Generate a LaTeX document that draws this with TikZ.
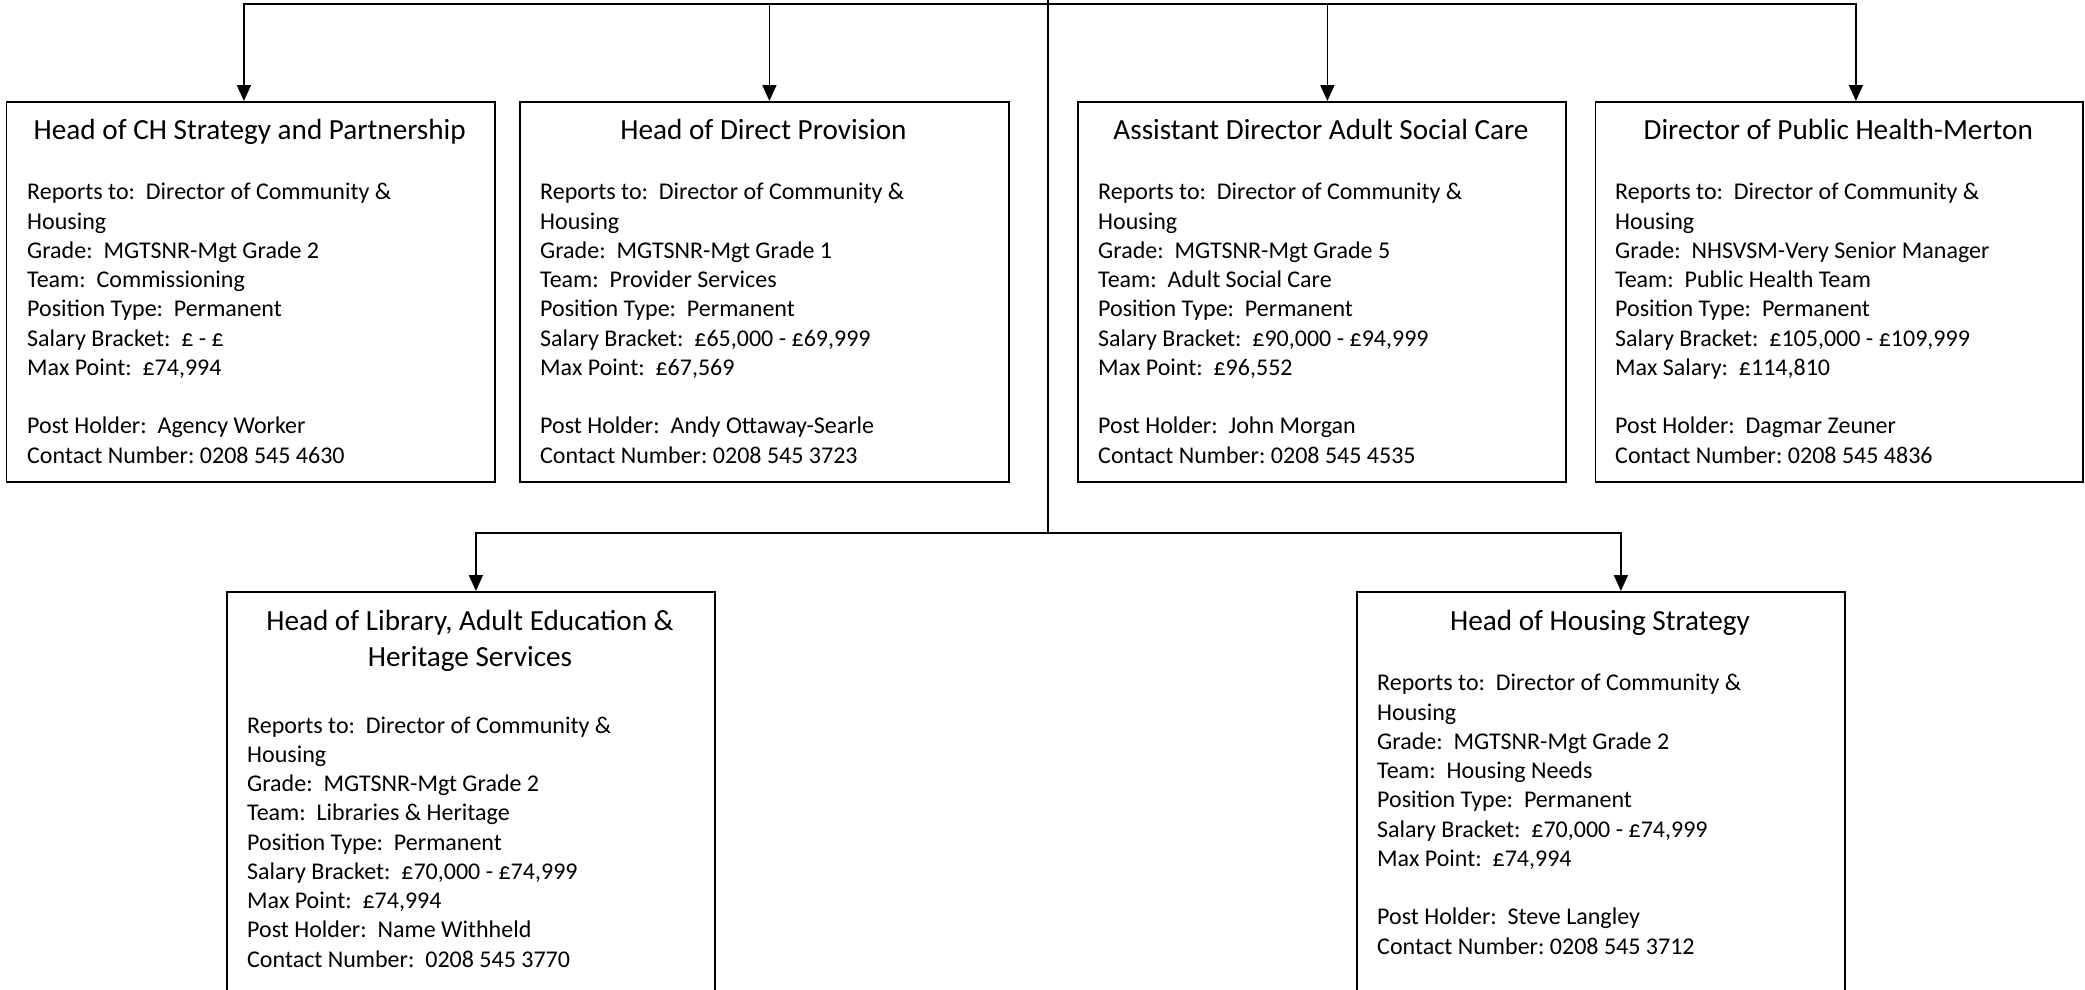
\documentclass[tikz,border=0pt]{standalone}
\usepackage{fontspec}
\setmainfont{Carlito}
\usetikzlibrary{arrows.meta}
\begin{document}
\begin{tikzpicture}[x=1pt,y=-1pt,
  box/.style={draw=black,line width=1.8pt,rectangle,inner sep=0pt,anchor=north west},
  conn/.style={line width=1.8pt,draw=black},
  arr/.style={conn,-{Triangle[length=16pt,width=14pt]}},
  ttl/.style={font=\frenchspacing\fontsize{29.2}{35.5}\selectfont,anchor=base,align=center,inner sep=0pt},
  bod/.style={font=\frenchspacing\fontsize{24}{29.25}\selectfont,anchor=base west,align=left,inner sep=0pt}]
\useasboundingbox (0,0) rectangle (2085,989);
\clip (0,0) rectangle (2085,989);
% boxes
\node[box,minimum width=488.5pt,minimum height=380pt] (b1) at (5.5,101) {};
\node[box,minimum width=489pt,minimum height=380pt] (b2) at (519,101) {};
\node[box,minimum width=488pt,minimum height=380pt] (b3) at (1077,101) {};
\node[box,minimum width=487.5pt,minimum height=380pt] (b4) at (1594.5,101) {};
\node[box,minimum width=488pt,minimum height=430pt] (b5) at (226,591) {};
\node[box,minimum width=488pt,minimum height=430pt] (b6) at (1356,591) {};
% connectors
\coordinate (root) at (1048,-5);
\coordinate (j1) at (1048,4);
\coordinate (j2) at (1048,533);
\draw[conn] (root) -- (j2);
\draw[arr] (j1) -| ([xshift=-6.75pt]b1.north);
\draw[arr] (j1) -| ([xshift=5pt]b2.north);
\draw[arr] (j1) -| ([xshift=5.5pt]b3.north);
\draw[arr] (j1) -| ([xshift=16.75pt]b4.north);
\draw[arr] (j2) -| ([xshift=5pt]b5.north);
\draw[arr] (j2) -| ([xshift=20pt]b6.north);
% titles (anchor base = baseline of last line)
\node[ttl] (t1) at (249.75,139) {Head of CH Strategy and Partnership};
\node[ttl] (t2) at (763.5,139) {Head of Direct Provision};
\node[ttl] (t3) at (1321,139) {Assistant Director Adult Social Care};
\node[ttl] (t4) at (1838.25,139) {Director of Public Health-Merton};
\node[ttl] (t5) at (470,666) {Head of Library, Adult Education \&\\Heritage Services};
\node[ttl] (t6) at (1600,630) {Head of Housing Strategy};
% bodies (anchor base = baseline of last line)
\node[bod] (d1) at (27,463) {Reports to:~~Director of Community \&\\Housing\\Grade:~~MGTSNR-Mgt Grade 2\\Team:~~Commissioning\\Position Type:~~Permanent\\Salary Bracket:~~£ - £\\Max Point:~~£74,994\\[29.25pt]Post Holder:~~Agency Worker\\Contact Number: 0208 545 4630};
\node[bod] (d2) at (540,463) {Reports to:~~Director of Community \&\\Housing\\Grade:~~MGTSNR-Mgt Grade 1\\Team:~~Provider Services\\Position Type:~~Permanent\\Salary Bracket:~~£65,000 - £69,999\\Max Point:~~£67,569\\[29.25pt]Post Holder:~~Andy Ottaway-Searle\\Contact Number: 0208 545 3723};
\node[bod] (d3) at (1098,463) {Reports to:~~Director of Community \&\\Housing\\Grade:~~MGTSNR-Mgt Grade 5\\Team:~~Adult Social Care\\Position Type:~~Permanent\\Salary Bracket:~~£90,000 - £94,999\\Max Point:~~£96,552\\[29.25pt]Post Holder:~~John Morgan\\Contact Number: 0208 545 4535};
\node[bod] (d4) at (1615,463) {Reports to:~~Director of Community \&\\Housing\\Grade:~~NHSVSM-Very Senior Manager\\Team:~~Public Health Team\\Position Type:~~Permanent\\Salary Bracket:~~£105,000 - £109,999\\Max Salary:~~£114,810\\[29.25pt]Post Holder:~~Dagmar Zeuner\\Contact Number: 0208 545 4836};
\node[bod] (d5) at (247,967) {Reports to:~~Director of Community \&\\Housing\\Grade:~~MGTSNR-Mgt Grade 2\\Team:~~Libraries \& Heritage\\Position Type:~~Permanent\\Salary Bracket:~~£70,000 - £74,999\\Max Point:~~£74,994\\Post Holder:~~Name Withheld\\Contact Number:~~0208 545 3770};
\node[bod] (d6) at (1377,954) {Reports to:~~Director of Community \&\\Housing\\Grade:~~MGTSNR-Mgt Grade 2\\Team:~~Housing Needs\\Position Type:~~Permanent\\Salary Bracket:~~£70,000 - £74,999\\Max Point:~~£74,994\\[29.25pt]Post Holder:~~Steve Langley\\Contact Number: 0208 545 3712};
\end{tikzpicture}
\end{document}
